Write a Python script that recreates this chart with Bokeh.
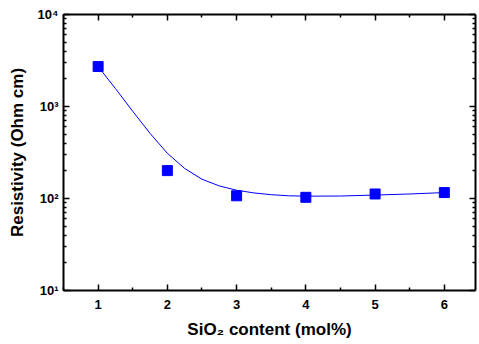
from bokeh.plotting import figure
from bokeh.models import Range1d, FixedTicker, LinearAxis, LogAxis, CustomJSTickFormatter
from bokeh.embed import file_html
from bokeh.resources import INLINE

# measured data
sio2 = [1, 2, 3, 4, 5, 6]
resistivity = [2720, 201, 107, 103, 112, 116]

# fitted curve
curve_x = [1.0, 1.25, 1.5, 1.75, 2.0, 2.25, 2.5, 2.75, 3.0, 3.25, 3.5, 3.75, 4.0, 4.5, 5.0, 5.5, 6.0]
curve_y = [2720, 1567, 887, 510, 310, 212, 162, 137, 123, 115, 110, 107, 106, 106.4, 109, 112, 116]

x_ticks = [1, 2, 3, 4, 5, 6]
x_minor = [0.5, 1.5, 2.5, 3.5, 4.5, 5.5]
y_ticks = [10, 100, 1000, 10000]
y_labels = {10: "10¹", 100: "10²", 1000: "10³", 10000: "10⁴"}
y_minor = [m * d for d in [10, 100, 1000] for m in range(2, 10)]

FONT = "Liberation Sans"

p = figure(width=479, height=344, y_axis_type="log",
           x_range=Range1d(0.5, 6.45), y_range=Range1d(10, 10000),
           output_backend="svg", toolbar_location=None,
           min_border_left=63, min_border_right=4, min_border_top=14, min_border_bottom=54)
p.grid.visible = False
p.outline_line_color = None
p.background_fill_color = "white"


def style(ax):
    ax.axis_line_width = 2
    ax.axis_line_color = "black"
    ax.major_tick_in = 6
    ax.major_tick_out = 0
    ax.minor_tick_in = 3
    ax.minor_tick_out = 0
    ax.major_tick_line_width = 1.5
    ax.minor_tick_line_width = 1.5
    ax.major_tick_line_color = "black"
    ax.minor_tick_line_color = "black"
    ax.major_label_text_font = FONT
    ax.major_label_text_font_style = "bold"
    ax.major_label_text_color = "black"
    ax.major_label_text_font_size = "13px"
    ax.axis_label_text_font = FONT
    ax.axis_label_text_font_style = "bold"
    ax.axis_label_text_font_size = "17px"
    ax.axis_label_text_color = "black"


xt = FixedTicker(ticks=x_ticks, minor_ticks=x_minor)
yt = FixedTicker(ticks=y_ticks, minor_ticks=y_minor)

p.xaxis.ticker = xt
p.yaxis.ticker = yt
p.yaxis.major_label_overrides = y_labels
style(p.xaxis[0])
style(p.yaxis[0])
p.xaxis.axis_label = "SiO₂ content (mol%)"
p.yaxis.axis_label = "Resistivity (Ohm cm)"
p.xaxis.major_label_standoff = 9
p.yaxis.major_label_standoff = 5
p.xaxis.axis_label_standoff = 8
p.yaxis.axis_label_standoff = 8

top = LinearAxis(ticker=xt, formatter=CustomJSTickFormatter(code="return ''"))
style(top)
top.major_label_standoff = 0
p.add_layout(top, "above")
right = LogAxis(ticker=yt, formatter=CustomJSTickFormatter(code="return ''"))
style(right)
right.major_label_standoff = 0
p.add_layout(right, "right")

p.line(curve_x, curve_y, line_color="#0000FF", line_width=1)
p.scatter(sio2, resistivity, marker="square", size=10, color="#0000FF")

open("out.html", "w").write(file_html(p, INLINE))
